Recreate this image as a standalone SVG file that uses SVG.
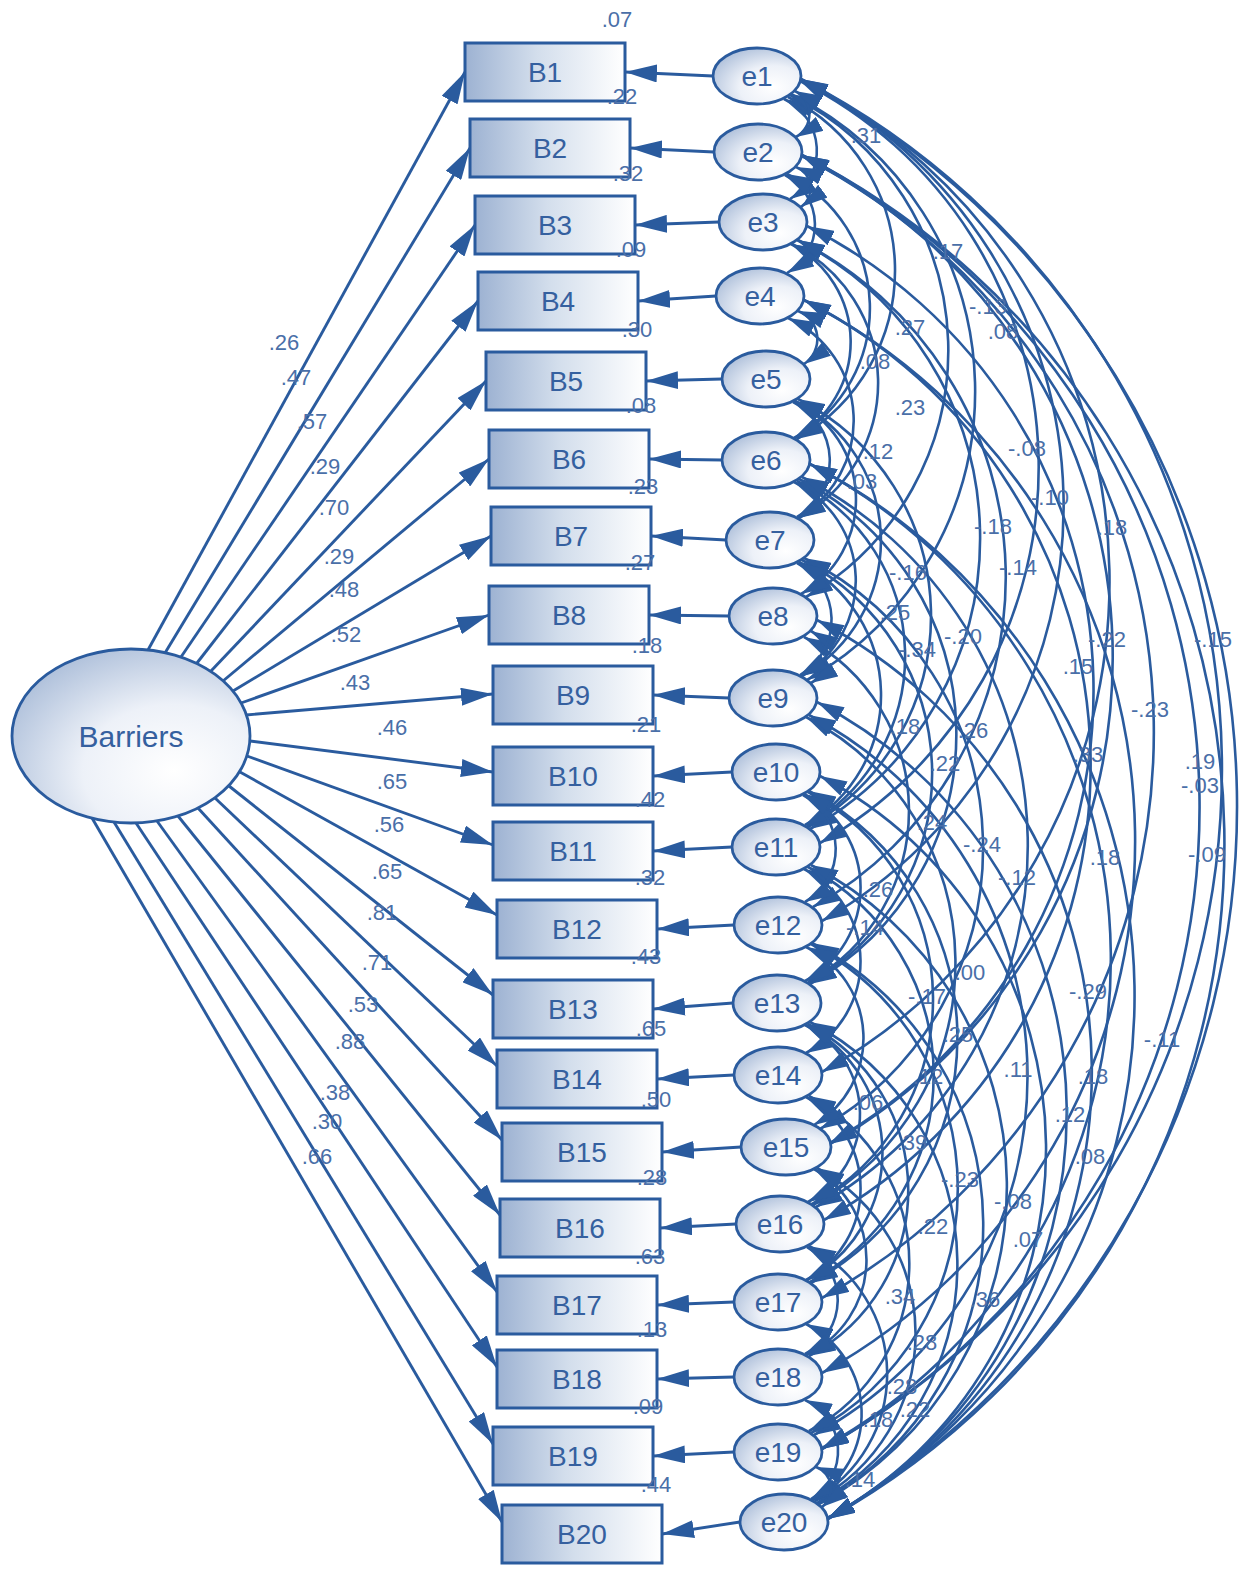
<svg xmlns="http://www.w3.org/2000/svg" width="1246" height="1569" viewBox="0 0 1246 1569">
<defs>
<linearGradient id="gBox" x1="0" y1="0" x2="1" y2="0">
<stop offset="0" stop-color="#9db2d2"/><stop offset="0.45" stop-color="#d3deec"/><stop offset="1" stop-color="#ffffff"/>
</linearGradient>
<radialGradient id="gEll" cx="0.68" cy="0.7" r="0.85">
<stop offset="0" stop-color="#ffffff"/><stop offset="0.45" stop-color="#edf1f8"/><stop offset="1" stop-color="#a3b7d5"/>
</radialGradient>
<marker id="ah" viewBox="0 0 32 18" refX="32" refY="9" markerWidth="32" markerHeight="18" markerUnits="userSpaceOnUse" orient="auto-start-reverse"><path d="M0,0 L32,9 L0,18 z" fill="#2a5b9e"/></marker>
<marker id="ac" viewBox="0 0 27 16" refX="27" refY="8" markerWidth="27" markerHeight="16" markerUnits="userSpaceOnUse" orient="auto-start-reverse"><path d="M0,0 L27,8 L0,16 z" fill="#2a5b9e"/></marker>
<style>
.box{fill:url(#gBox);stroke:#2a5b9e;stroke-width:3}
.ell{fill:url(#gEll);stroke:#2a5b9e;stroke-width:2.8}
.nt{font-family:"Liberation Sans",Arial,sans-serif;font-size:28px;fill:#35609f;text-anchor:middle}
.big{font-size:30px}
.lb{font-family:"Liberation Sans",Arial,sans-serif;font-size:22px;fill:#4a6fa8;text-anchor:middle}
.ld{fill:none;stroke:#2a5b9e;stroke-width:2.9;marker-end:url(#ah)}
.cv{fill:none;stroke:#2a5b9e;stroke-width:2.6;marker-start:url(#ac);marker-end:url(#ac)}
</style>
</defs>
<rect width="1246" height="1569" fill="#ffffff"/>
<g id="connectors">
<g id="loadings">
<path class="ld" d="M148,650 L465,72"/>
<path class="ld" d="M165,653 L470,148"/>
<path class="ld" d="M181,657 L475,225"/>
<path class="ld" d="M197,663 L478,301"/>
<path class="ld" d="M211,671 L486,381"/>
<path class="ld" d="M223,681 L489,459"/>
<path class="ld" d="M233,691 L491,536"/>
<path class="ld" d="M241,703 L489,615"/>
<path class="ld" d="M246,715 L493,694"/>
<path class="ld" d="M250,741 L493,772"/>
<path class="ld" d="M247,756 L493,845"/>
<path class="ld" d="M240,772 L497,915"/>
<path class="ld" d="M229,786 L493,995"/>
<path class="ld" d="M215,798 L497,1066"/>
<path class="ld" d="M198,808 L502,1140"/>
<path class="ld" d="M178,816 L500,1215"/>
<path class="ld" d="M157,821 L497,1292"/>
<path class="ld" d="M136,823 L497,1367"/>
<path class="ld" d="M114,822 L493,1444"/>
<path class="ld" d="M92,818 L502,1522"/>
</g>
<g id="errors">
<path class="ld" d="M713,76 L625,72"/>
<path class="ld" d="M714,152 L630,148"/>
<path class="ld" d="M719,222 L635,225"/>
<path class="ld" d="M716,296 L638,301"/>
<path class="ld" d="M722,379 L646,381"/>
<path class="ld" d="M722,460 L649,459"/>
<path class="ld" d="M726,540 L651,536"/>
<path class="ld" d="M729,616 L649,615"/>
<path class="ld" d="M729,698 L653,695"/>
<path class="ld" d="M732,772 L653,776"/>
<path class="ld" d="M732,847 L653,851"/>
<path class="ld" d="M734,925 L657,929"/>
<path class="ld" d="M733,1003 L653,1009"/>
<path class="ld" d="M734,1075 L657,1079"/>
<path class="ld" d="M741,1147 L662,1152"/>
<path class="ld" d="M736,1224 L660,1228"/>
<path class="ld" d="M734,1302 L657,1305"/>
<path class="ld" d="M734,1377 L657,1379"/>
<path class="ld" d="M734,1452 L653,1456"/>
<path class="ld" d="M740,1522 L662,1534"/>
</g>
<g id="covariances">
<path class="cv" d="M784,99 A57,57 0 0 1 790,199"/>
<path class="cv" d="M788,97 A194,194 0 0 1 797,439"/>
<path class="cv" d="M790,95 A285,285 0 0 1 806,597"/>
<path class="cv" d="M791,94 A332,332 0 0 1 807,680"/>
<path class="cv" d="M787,174 A150,150 0 0 1 795,438"/>
<path class="cv" d="M791,244 A110,110 0 0 1 794,438"/>
<path class="cv" d="M792,244 A155,155 0 0 1 799,518"/>
<path class="cv" d="M800,81 A432,432 0 0 1 820,843"/>
<path class="cv" d="M788,318 A113,113 0 0 1 798,518"/>
<path class="cv" d="M793,402 A65,65 0 0 1 797,517"/>
<path class="cv" d="M801,80 A477,477 0 0 1 822,921"/>
<path class="cv" d="M797,240 A334,334 0 0 1 810,829"/>
<path class="cv" d="M801,80 A562,562 0 0 1 822,1072"/>
<path class="cv" d="M798,240 A378,378 0 0 1 813,907"/>
<path class="cv" d="M795,401 A156,156 0 0 1 802,676"/>
<path class="cv" d="M801,79 A825,825 0 0 1 828,1519"/>
<path class="cv" d="M801,79 A777,777 0 0 1 822,1449"/>
<path class="cv" d="M802,155 A734,734 0 0 1 822,1449"/>
<path class="cv" d="M802,155 A773,773 0 0 1 828,1519"/>
<path class="cv" d="M794,482 A110,110 0 0 1 801,676"/>
<path class="cv" d="M798,399 A243,243 0 0 1 808,827"/>
<path class="cv" d="M802,156 A560,560 0 0 1 830,1144"/>
<path class="cv" d="M797,481 A196,196 0 0 1 807,826"/>
<path class="cv" d="M807,226 A520,520 0 0 1 830,1143"/>
<path class="cv" d="M802,156 A648,648 0 0 1 822,1298"/>
<path class="cv" d="M799,562 A149,149 0 0 1 805,825"/>
<path class="cv" d="M799,479 A286,286 0 0 1 810,984"/>
<path class="cv" d="M804,300 A521,521 0 0 1 824,1220"/>
<path class="cv" d="M802,560 A240,240 0 0 1 809,983"/>
<path class="cv" d="M804,637 A196,196 0 0 1 808,982"/>
<path class="cv" d="M804,558 A324,324 0 0 1 820,1129"/>
<path class="cv" d="M802,477 A414,414 0 0 1 816,1207"/>
<path class="cv" d="M804,300 A608,608 0 0 1 822,1373"/>
<path class="cv" d="M804,794 A106,106 0 0 1 805,981"/>
<path class="cv" d="M804,869 A104,104 0 0 1 806,1053"/>
<path class="cv" d="M806,717 A277,277 0 0 1 813,1205"/>
<path class="cv" d="M810,464 A558,558 0 0 1 822,1448"/>
<path class="cv" d="M808,792 A234,234 0 0 1 812,1204"/>
<path class="cv" d="M809,791 A279,279 0 0 1 811,1283"/>
<path class="cv" d="M810,464 A598,598 0 0 1 828,1518"/>
<path class="cv" d="M809,715 A408,408 0 0 1 814,1435"/>
<path class="cv" d="M808,867 A235,235 0 0 1 810,1282"/>
<path class="cv" d="M817,620 A509,509 0 0 1 828,1518"/>
<path class="cv" d="M817,702 A463,463 0 0 1 828,1518"/>
<path class="cv" d="M806,1025 A145,145 0 0 1 807,1280"/>
<path class="cv" d="M820,776 A421,421 0 0 1 828,1518"/>
<path class="cv" d="M811,944 A277,277 0 0 1 811,1433"/>
<path class="cv" d="M811,865 A362,362 0 0 1 819,1504"/>
<path class="cv" d="M812,943 A318,318 0 0 1 818,1504"/>
<path class="cv" d="M808,1024 A188,188 0 0 1 809,1356"/>
<path class="cv" d="M814,1169 A105,105 0 0 1 806,1355"/>
<path class="cv" d="M810,1022 A273,273 0 0 1 817,1503"/>
<path class="cv" d="M817,1168 A189,189 0 0 1 815,1501"/>
<path class="cv" d="M809,1246 A144,144 0 0 1 813,1500"/>
<path class="cv" d="M806,1324 A100,100 0 0 1 812,1500"/>
<path class="cv" d="M805,1400 A56,56 0 0 1 811,1499"/>
<path class="cv" d="M816,1467 A23,23 0 0 1 822,1507"/>
<path class="cv" d="M795,91 A26,26 0 0 1 796,137"/>
<path class="cv" d="M796,167 A23,23 0 0 1 801,207"/>
<path class="cv" d="M805,1025 A100,100 0 0 1 808,1202"/>
<path class="cv" d="M798,311 A30,30 0 0 1 804,364"/>
<path class="cv" d="M811,631 A30,30 0 0 1 811,683"/>
<path class="cv" d="M807,1247 A61,61 0 0 1 805,1354"/>
<path class="cv" d="M806,1097 A104,104 0 0 1 806,1280"/>
<path class="cv" d="M785,175 A56,56 0 0 1 787,273"/>
<path class="cv" d="M797,563 A64,64 0 0 1 800,675"/>
<path class="cv" d="M806,947 A101,101 0 0 1 814,1125"/>
<path class="cv" d="M809,1096 A190,190 0 0 1 809,1431"/>
<path class="cv" d="M803,795 A61,61 0 0 1 805,902"/>
<path class="cv" d="M794,401 A109,109 0 0 1 801,594"/>
</g>
</g>
<g id="Barriers"><ellipse class="ell" cx="131" cy="736" rx="119" ry="87"/><text class="nt big" x="131" y="747">Barriers</text></g>
<g id="B1"><rect class="box" x="465" y="43" width="160" height="58"/><text class="nt" x="545" y="82">B1</text></g>
<g id="B2"><rect class="box" x="470" y="119" width="160" height="58"/><text class="nt" x="550" y="158">B2</text></g>
<g id="B3"><rect class="box" x="475" y="196" width="160" height="58"/><text class="nt" x="555" y="235">B3</text></g>
<g id="B4"><rect class="box" x="478" y="272" width="160" height="58"/><text class="nt" x="558" y="311">B4</text></g>
<g id="B5"><rect class="box" x="486" y="352" width="160" height="58"/><text class="nt" x="566" y="391">B5</text></g>
<g id="B6"><rect class="box" x="489" y="430" width="160" height="58"/><text class="nt" x="569" y="469">B6</text></g>
<g id="B7"><rect class="box" x="491" y="507" width="160" height="58"/><text class="nt" x="571" y="546">B7</text></g>
<g id="B8"><rect class="box" x="489" y="586" width="160" height="58"/><text class="nt" x="569" y="625">B8</text></g>
<g id="B9"><rect class="box" x="493" y="666" width="160" height="58"/><text class="nt" x="573" y="705">B9</text></g>
<g id="B10"><rect class="box" x="493" y="747" width="160" height="58"/><text class="nt" x="573" y="786">B10</text></g>
<g id="B11"><rect class="box" x="493" y="822" width="160" height="58"/><text class="nt" x="573" y="861">B11</text></g>
<g id="B12"><rect class="box" x="497" y="900" width="160" height="58"/><text class="nt" x="577" y="939">B12</text></g>
<g id="B13"><rect class="box" x="493" y="980" width="160" height="58"/><text class="nt" x="573" y="1019">B13</text></g>
<g id="B14"><rect class="box" x="497" y="1050" width="160" height="58"/><text class="nt" x="577" y="1089">B14</text></g>
<g id="B15"><rect class="box" x="502" y="1123" width="160" height="58"/><text class="nt" x="582" y="1162">B15</text></g>
<g id="B16"><rect class="box" x="500" y="1199" width="160" height="58"/><text class="nt" x="580" y="1238">B16</text></g>
<g id="B17"><rect class="box" x="497" y="1276" width="160" height="58"/><text class="nt" x="577" y="1315">B17</text></g>
<g id="B18"><rect class="box" x="497" y="1350" width="160" height="58"/><text class="nt" x="577" y="1389">B18</text></g>
<g id="B19"><rect class="box" x="493" y="1427" width="160" height="58"/><text class="nt" x="573" y="1466">B19</text></g>
<g id="B20"><rect class="box" x="502" y="1505" width="160" height="58"/><text class="nt" x="582" y="1544">B20</text></g>
<g id="e1"><ellipse class="ell" cx="757" cy="76" rx="44" ry="28"/><text class="nt" x="757" y="86">e1</text></g>
<g id="e2"><ellipse class="ell" cx="758" cy="152" rx="44" ry="28"/><text class="nt" x="758" y="162">e2</text></g>
<g id="e3"><ellipse class="ell" cx="763" cy="222" rx="44" ry="28"/><text class="nt" x="763" y="232">e3</text></g>
<g id="e4"><ellipse class="ell" cx="760" cy="296" rx="44" ry="28"/><text class="nt" x="760" y="306">e4</text></g>
<g id="e5"><ellipse class="ell" cx="766" cy="379" rx="44" ry="28"/><text class="nt" x="766" y="389">e5</text></g>
<g id="e6"><ellipse class="ell" cx="766" cy="460" rx="44" ry="28"/><text class="nt" x="766" y="470">e6</text></g>
<g id="e7"><ellipse class="ell" cx="770" cy="540" rx="44" ry="28"/><text class="nt" x="770" y="550">e7</text></g>
<g id="e8"><ellipse class="ell" cx="773" cy="616" rx="44" ry="28"/><text class="nt" x="773" y="626">e8</text></g>
<g id="e9"><ellipse class="ell" cx="773" cy="698" rx="44" ry="28"/><text class="nt" x="773" y="708">e9</text></g>
<g id="e10"><ellipse class="ell" cx="776" cy="772" rx="44" ry="28"/><text class="nt" x="776" y="782">e10</text></g>
<g id="e11"><ellipse class="ell" cx="776" cy="847" rx="44" ry="28"/><text class="nt" x="776" y="857">e11</text></g>
<g id="e12"><ellipse class="ell" cx="778" cy="925" rx="44" ry="28"/><text class="nt" x="778" y="935">e12</text></g>
<g id="e13"><ellipse class="ell" cx="777" cy="1003" rx="44" ry="28"/><text class="nt" x="777" y="1013">e13</text></g>
<g id="e14"><ellipse class="ell" cx="778" cy="1075" rx="44" ry="28"/><text class="nt" x="778" y="1085">e14</text></g>
<g id="e15"><ellipse class="ell" cx="786" cy="1147" rx="45" ry="28"/><text class="nt" x="786" y="1157">e15</text></g>
<g id="e16"><ellipse class="ell" cx="780" cy="1224" rx="44" ry="28"/><text class="nt" x="780" y="1234">e16</text></g>
<g id="e17"><ellipse class="ell" cx="778" cy="1302" rx="44" ry="28"/><text class="nt" x="778" y="1312">e17</text></g>
<g id="e18"><ellipse class="ell" cx="778" cy="1377" rx="44" ry="28"/><text class="nt" x="778" y="1387">e18</text></g>
<g id="e19"><ellipse class="ell" cx="778" cy="1452" rx="44" ry="28"/><text class="nt" x="778" y="1462">e19</text></g>
<g id="e20"><ellipse class="ell" cx="784" cy="1522" rx="44" ry="28"/><text class="nt" x="784" y="1532">e20</text></g>
<g id="loading-labels">
<text class="lb" x="284" y="350">.26</text>
<text class="lb" x="296" y="385">.47</text>
<text class="lb" x="312" y="429">.57</text>
<text class="lb" x="325" y="474">.29</text>
<text class="lb" x="334" y="515">.70</text>
<text class="lb" x="339" y="564">.29</text>
<text class="lb" x="344" y="597">.48</text>
<text class="lb" x="346" y="642">.52</text>
<text class="lb" x="355" y="690">.43</text>
<text class="lb" x="392" y="735">.46</text>
<text class="lb" x="392" y="789">.65</text>
<text class="lb" x="389" y="832">.56</text>
<text class="lb" x="387" y="879">.65</text>
<text class="lb" x="382" y="920">.81</text>
<text class="lb" x="377" y="970">.71</text>
<text class="lb" x="363" y="1012">.53</text>
<text class="lb" x="350" y="1049">.88</text>
<text class="lb" x="335" y="1100">.38</text>
<text class="lb" x="327" y="1129">.30</text>
<text class="lb" x="317" y="1164">.66</text>
</g>
<g id="r2-labels">
<text class="lb" x="617" y="27">.07</text>
<text class="lb" x="622" y="104">.22</text>
<text class="lb" x="628" y="181">.32</text>
<text class="lb" x="631" y="257">.09</text>
<text class="lb" x="637" y="337">.30</text>
<text class="lb" x="641" y="413">.08</text>
<text class="lb" x="643" y="494">.23</text>
<text class="lb" x="640" y="570">.27</text>
<text class="lb" x="647" y="653">.18</text>
<text class="lb" x="646" y="732">.21</text>
<text class="lb" x="650" y="807">.42</text>
<text class="lb" x="650" y="885">.32</text>
<text class="lb" x="646" y="964">.43</text>
<text class="lb" x="651" y="1036">.65</text>
<text class="lb" x="656" y="1107">.50</text>
<text class="lb" x="652" y="1185">.28</text>
<text class="lb" x="650" y="1264">.63</text>
<text class="lb" x="652" y="1337">.13</text>
<text class="lb" x="648" y="1414">.09</text>
<text class="lb" x="656" y="1492">.44</text>
</g>
<g id="covariance-labels">
<text class="lb" x="866" y="143">.31</text>
<text class="lb" x="948" y="259">.17</text>
<text class="lb" x="988" y="314">-.13</text>
<text class="lb" x="1003" y="339">.08</text>
<text class="lb" x="910" y="335">.27</text>
<text class="lb" x="875" y="369">.08</text>
<text class="lb" x="910" y="415">.23</text>
<text class="lb" x="878" y="459">.12</text>
<text class="lb" x="1027" y="456">-.08</text>
<text class="lb" x="862" y="489">.03</text>
<text class="lb" x="1050" y="505">-.10</text>
<text class="lb" x="993" y="534">-.18</text>
<text class="lb" x="1112" y="535">.18</text>
<text class="lb" x="1018" y="575">-.14</text>
<text class="lb" x="908" y="580">-.16</text>
<text class="lb" x="895" y="620">.25</text>
<text class="lb" x="963" y="644">-.20</text>
<text class="lb" x="1107" y="647">-.22</text>
<text class="lb" x="1213" y="647">-.15</text>
<text class="lb" x="917" y="657">-.34</text>
<text class="lb" x="1078" y="674">.15</text>
<text class="lb" x="1150" y="717">-.23</text>
<text class="lb" x="905" y="734">.18</text>
<text class="lb" x="973" y="738">.26</text>
<text class="lb" x="1088" y="762">.33</text>
<text class="lb" x="945" y="771">.22</text>
<text class="lb" x="1200" y="769">.19</text>
<text class="lb" x="1200" y="793">-.03</text>
<text class="lb" x="932" y="830">.24</text>
<text class="lb" x="982" y="852">-.24</text>
<text class="lb" x="1207" y="862">-.09</text>
<text class="lb" x="1105" y="865">.18</text>
<text class="lb" x="1017" y="885">-.12</text>
<text class="lb" x="878" y="897">.26</text>
<text class="lb" x="865" y="935">-.14</text>
<text class="lb" x="970" y="980">.00</text>
<text class="lb" x="927" y="1004">-.17</text>
<text class="lb" x="1088" y="999">-.29</text>
<text class="lb" x="958" y="1042">.25</text>
<text class="lb" x="1162" y="1047">-.11</text>
<text class="lb" x="1018" y="1077">.11</text>
<text class="lb" x="928" y="1084">.12</text>
<text class="lb" x="1093" y="1084">.18</text>
<text class="lb" x="868" y="1110">.06</text>
<text class="lb" x="1070" y="1122">.12</text>
<text class="lb" x="912" y="1150">.39</text>
<text class="lb" x="1090" y="1164">.08</text>
<text class="lb" x="960" y="1187">-.23</text>
<text class="lb" x="1013" y="1209">-.08</text>
<text class="lb" x="933" y="1234">.22</text>
<text class="lb" x="1028" y="1247">.07</text>
<text class="lb" x="900" y="1304">.34</text>
<text class="lb" x="985" y="1307">.36</text>
<text class="lb" x="922" y="1350">.28</text>
<text class="lb" x="902" y="1394">.28</text>
<text class="lb" x="915" y="1417">.22</text>
<text class="lb" x="878" y="1427">.18</text>
<text class="lb" x="860" y="1487">.14</text>
</g>
</svg>
